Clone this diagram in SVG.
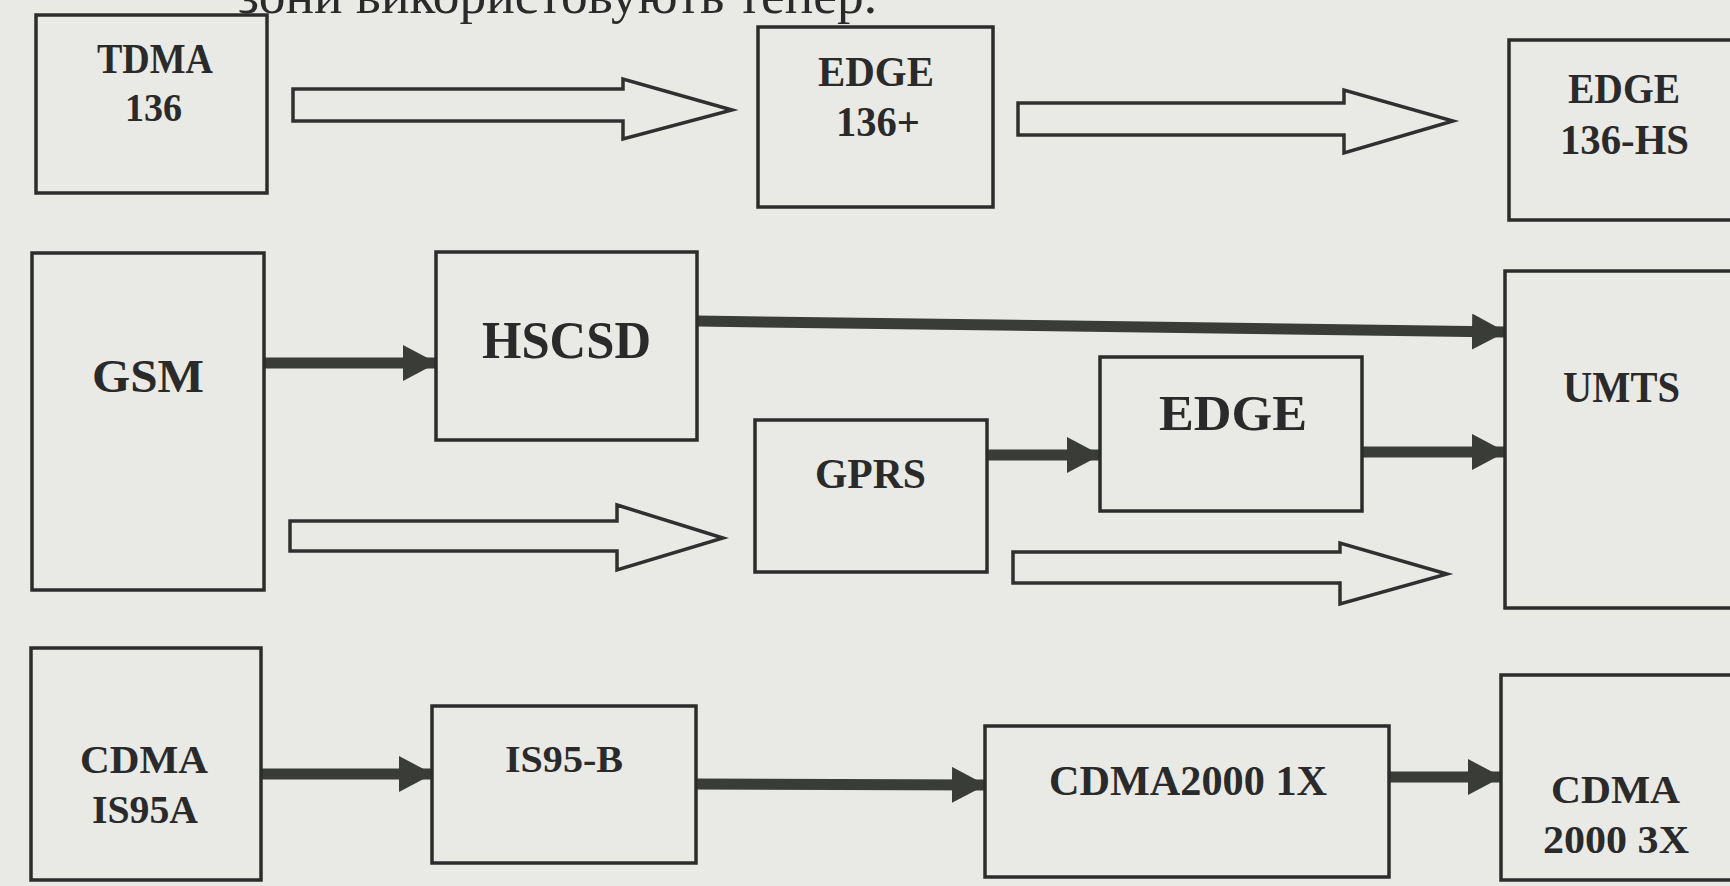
<svg xmlns="http://www.w3.org/2000/svg" width="1730" height="886" viewBox="0 0 1730 886">
<style>
.bg{fill:#e9e9e6}
.box{fill:none;stroke:#2c2c2c;stroke-width:3.5}
.lbl{font-family:"Liberation Serif","Times New Roman",serif;font-weight:bold;fill:#2a2a2a}
.cap{font-family:"Liberation Serif","Times New Roman",serif;fill:#2a2a2a}
.hollow{fill:none;stroke:#303030;stroke-width:3.5;stroke-linejoin:miter}
.solid{fill:none;stroke:#3a3c38;stroke-width:11;marker-end:url(#head)}
</style>
<defs>
<marker id="head" viewBox="0 0 34 36" refX="33" refY="18" markerWidth="34" markerHeight="36" markerUnits="userSpaceOnUse" orient="auto">
<path d="M0,0 L34,18 L0,36 Z" fill="#3a3c38"/>
</marker>
</defs>
<rect class="bg" x="0" y="0" width="1730" height="886"/>
<text class="cap" x="238" y="13" font-size="52" textLength="639" lengthAdjust="spacingAndGlyphs">зони використовують тепер.</text>

<g id="connectors">
<polygon class="hollow" points="293,89 623,89 623,79 732,110 623,139 623,121 293,121"/>
<polygon class="hollow" points="1018,103 1344,103 1344,90 1453,121 1344,153 1344,135 1018,135"/>
<polygon class="hollow" points="290,521 617,521 617,505 723,538 617,570 617,551 290,551"/>
<polygon class="hollow" points="1013,552 1340,552 1340,543 1447,574 1340,604 1340,583 1013,583"/>
<path class="solid" d="M264,363 L436,363"/>
<path class="solid" d="M697,321 L1505,332"/>
<path class="solid" d="M987,455 L1100,455"/>
<path class="solid" d="M1362,452 L1505,452"/>
<path class="solid" d="M261,774 L432,774"/>
<path class="solid" d="M696,784 L985,785"/>
<path class="solid" d="M1389,777 L1501,777"/>
</g>

<g id="tdma136">
<rect class="box" x="36" y="15" width="231" height="178"/>
<text class="lbl" x="97" y="73" font-size="42" textLength="116" lengthAdjust="spacingAndGlyphs">TDMA</text>
<text class="lbl" x="125" y="121" font-size="40" textLength="57" lengthAdjust="spacingAndGlyphs">136</text>
</g>
<g id="edge136plus">
<rect class="box" x="758" y="27" width="235" height="180"/>
<text class="lbl" x="818" y="86" font-size="42" textLength="116" lengthAdjust="spacingAndGlyphs">EDGE</text>
<text class="lbl" x="836" y="136" font-size="42" textLength="84" lengthAdjust="spacingAndGlyphs">136+</text>
</g>
<g id="edge136hs">
<rect class="box" x="1509" y="40" width="240" height="180"/>
<text class="lbl" x="1568" y="103" font-size="42" textLength="112" lengthAdjust="spacingAndGlyphs">EDGE</text>
<text class="lbl" x="1560" y="154" font-size="42" textLength="129" lengthAdjust="spacingAndGlyphs">136-HS</text>
</g>
<g id="gsm">
<rect class="box" x="32" y="253" width="232" height="337"/>
<text class="lbl" x="92" y="392" font-size="46" textLength="112" lengthAdjust="spacingAndGlyphs">GSM</text>
</g>
<g id="hscsd">
<rect class="box" x="436" y="252" width="261" height="188"/>
<text class="lbl" x="482" y="358" font-size="53" textLength="169" lengthAdjust="spacingAndGlyphs">HSCSD</text>
</g>
<g id="gprs">
<rect class="box" x="755" y="420" width="232" height="152"/>
<text class="lbl" x="815" y="488" font-size="42" textLength="111" lengthAdjust="spacingAndGlyphs">GPRS</text>
</g>
<g id="edge">
<rect class="box" x="1100" y="357" width="262" height="154"/>
<text class="lbl" x="1159" y="430" font-size="50" textLength="148" lengthAdjust="spacingAndGlyphs">EDGE</text>
</g>
<g id="umts">
<rect class="box" x="1505" y="271" width="240" height="337"/>
<text class="lbl" x="1563" y="402" font-size="44" textLength="117" lengthAdjust="spacingAndGlyphs">UMTS</text>
</g>
<g id="cdmais95a">
<rect class="box" x="31" y="648" width="230" height="232"/>
<text class="lbl" x="80" y="773" font-size="40" textLength="128" lengthAdjust="spacingAndGlyphs">CDMA</text>
<text class="lbl" x="92" y="823" font-size="40" textLength="106" lengthAdjust="spacingAndGlyphs">IS95A</text>
</g>
<g id="is95b">
<rect class="box" x="432" y="706" width="264" height="157"/>
<text class="lbl" x="505" y="772" font-size="38" textLength="118" lengthAdjust="spacingAndGlyphs">IS95-B</text>
</g>
<g id="cdma2000-1x">
<rect class="box" x="985" y="726" width="404" height="151"/>
<text class="lbl" x="1049" y="795" font-size="42" textLength="278" lengthAdjust="spacingAndGlyphs">CDMA2000 1X</text>
</g>
<g id="cdma2000-3x">
<rect class="box" x="1501" y="675" width="245" height="205"/>
<text class="lbl" x="1551" y="803" font-size="40" textLength="129" lengthAdjust="spacingAndGlyphs">CDMA</text>
<text class="lbl" x="1543" y="853" font-size="40" textLength="146" lengthAdjust="spacingAndGlyphs">2000 3X</text>
</g>
</svg>
